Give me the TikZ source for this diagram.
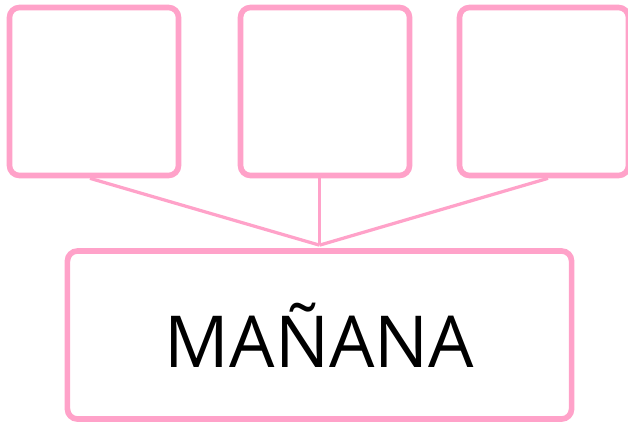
\documentclass[tikz,border=0pt]{standalone}
\usepackage{fontspec}
\setmainfont{Open Sans}
\usepackage{tikz}
\usetikzlibrary{positioning, calc}
\definecolor{rosa}{RGB}{255,162,201}
\tikzset{
    caja/.style={draw=rosa, line width=4pt, rounded corners=0.25cm, fill=white, inner sep=0pt},
    hueco/.style={caja, minimum width=4.225cm, minimum height=4.2cm},
    grande/.style={caja, minimum width=12.6cm, minimum height=4.2cm, font=\fontsize{51}{60}\selectfont},
    enlace/.style={draw=rosa, line width=2.3pt}
}

\begin{document}
\begin{tikzpicture}[x=0.025cm, y=-0.025cm]
        \useasboundingbox (0,0) rectangle (628,426);

        % Cajas de arriba
        \node[hueco] (c1) at (94,91.5) {};
        \node[hueco] (c2) at (325,91.5) {};
        \node[hueco] (c3) at (544,91.5) {};

        % Caja de abajo
        \node[grande] (dia) at (319.5,335) {MAÑANA};

        % Enlaces
        \coordinate (cruce) at ($(dia.north)+(0,-3)$);
        \draw[enlace] ([xshift=-0.1cm]c1.south) -- (cruce);
        \draw[enlace] (cruce |- c2.south) -- (cruce);
        \draw[enlace] ([xshift=0.1cm]c3.south) -- (cruce);
    \end{tikzpicture}
\end{document}
